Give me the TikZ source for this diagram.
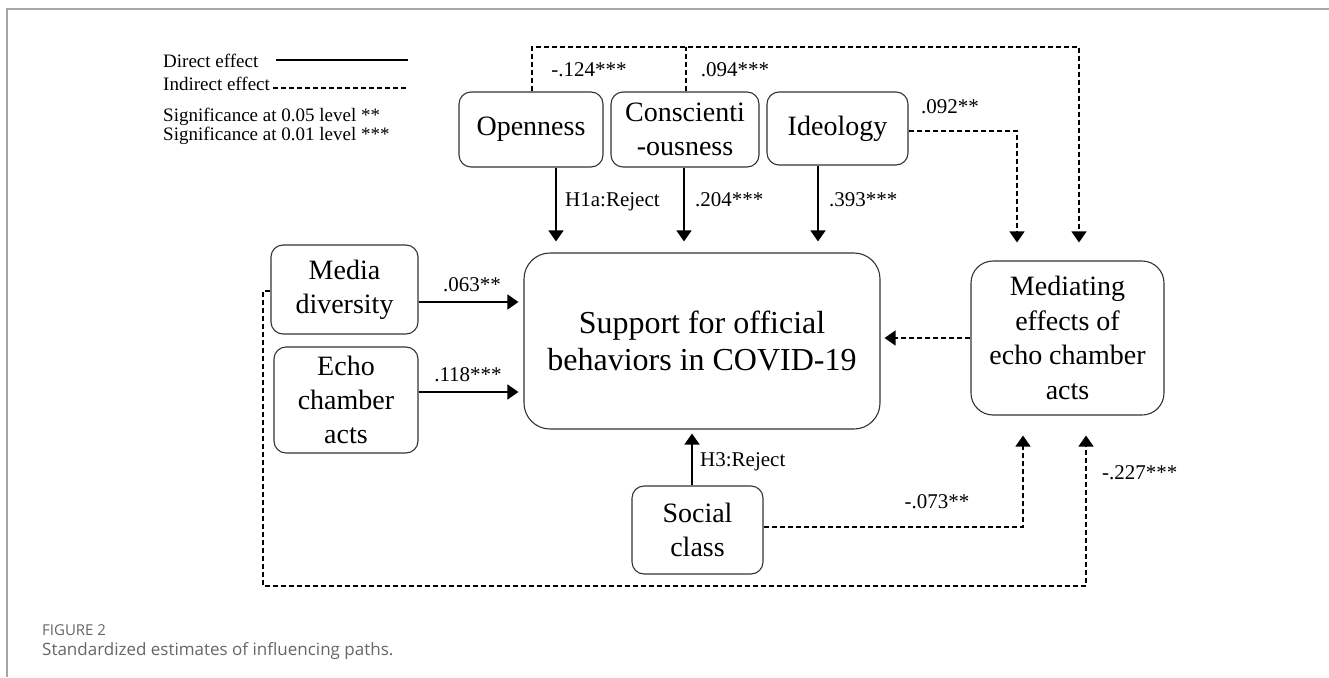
\documentclass[tikz,border=0pt]{standalone}
\usepackage{fontspec}
\setmainfont{Liberation Serif}
\newfontfamily\capfont{Open Sans}
\usetikzlibrary{arrows.meta}
\usetikzlibrary{positioning}
\usetikzlibrary{calc}

\begin{document}
\begin{tikzpicture}[x=1pt, y=-1pt,
    var/.style={draw=black!80, line width=1.1pt, rounded corners=12pt, align=center, inner sep=0pt, font=\fontsize{28}{34}\selectfont},
    direct/.style={line width=1.3pt, -{Triangle[width=15pt,length=11pt]}},
    indirect/.style={direct, dash pattern=on 5pt off 3pt},
    est/.style={font=\fontsize{21}{24}\selectfont, inner sep=0pt},
    legend/.style={font=\fontsize{19}{22}\selectfont, anchor=base west, inner sep=0pt}]
    \useasboundingbox (0,0) rectangle (1329,677);

    % Page frame
    \draw[black!35, line width=2pt] (7,677) -- (7,9) -- (1329,9);

    % Legend
    \node[legend] (ldirect) at (163,67) {Direct effect};
    \node[legend] (lindirect) at (163,90) {Indirect effect};
    \node[legend] (lsig05) at (163,121) {Significance at 0.05 level **};
    \node[legend] (lsig01) at (163,140) {Significance at 0.01 level ***};
    \draw[line width=1.3pt] (276,60) -- (408,60);
    \draw[line width=1.1pt, dash pattern=on 5pt off 3pt] (273,88) -- (408,88);

    % Variables
    \node[var, minimum width=144pt, minimum height=75pt] (open) at (531,129.5) {Openness};
    \node[var, minimum width=148pt, minimum height=75pt] (consc) at (685,129.5) {Conscienti\\-ousness};
    \node[var, minimum width=141pt, minimum height=73pt] (ideo) at (837.5,128.5) {Ideology};
    \node[var, minimum width=147pt, minimum height=89pt] (media) at (344.5,289.5) {Media\\diversity};
    \node[var, minimum width=144pt, minimum height=106pt] (echo) at (346,400) {Echo\\chamber\\acts};
    \node[var, minimum width=356pt, minimum height=176pt, rounded corners=26pt, font=\fontsize{32}{37}\selectfont] (support) at (702,341) {Support for official\\behaviors in COVID-19};
    \node[var, minimum width=131pt, minimum height=88pt] (social) at (697.5,530) {Social\\class};
    \node[var, minimum width=193pt, minimum height=154pt, rounded corners=22pt, font=\fontsize{28}{34.5}\selectfont] (medi) at (1067.5,338) {Mediating\\effects of\\echo chamber\\acts};

    % Direct effects
    \draw[direct, shorten >=11pt] ([xshift=25pt]open.south) -- ([xshift=25pt]open.south |- support.north);
    \draw[direct, shorten >=11pt] ([xshift=-1pt]consc.south) -- ([xshift=-1pt]consc.south |- support.north);
    \draw[direct, shorten >=11pt] ([xshift=-19.5pt]ideo.south) -- ([xshift=-19.5pt]ideo.south |- support.north);
    \draw[direct, shorten >=5pt] ([yshift=-12.5pt]media.east) -- ([yshift=-12.5pt]media.east -| support.west);
    \draw[direct, shorten >=5pt] ([yshift=8pt]echo.east) -- ([yshift=8pt]echo.east -| support.west);
    \draw[direct, shorten >=4pt] ([xshift=-5.5pt]social.north) -- ([xshift=-5.5pt]social.north |- support.south);

    % Indirect effects
    \coordinate (topline) at (0,47);
    \coordinate (botline) at (263,586);
    \coordinate (mtopA) at ([xshift=-50.5pt]medi.north);
    \coordinate (mtopB) at ([xshift=11.5pt]medi.north);
    \coordinate (mbotA) at ([xshift=-44.5pt]medi.south);
    \coordinate (mbotB) at ([xshift=18.5pt]medi.south);
    \draw[indirect, shorten >=4pt] (medi.west) -- (medi.west -| support.east);
    \draw[indirect, shorten >=18pt] ([xshift=1pt]open.north) |- (topline -| mtopB) -- (mtopB);
    \draw[indirect, -] ([xshift=1pt]consc.north) -- ([xshift=1pt]topline -| consc.north);
    \draw[indirect, shorten >=18pt] ([yshift=-2.5pt]ideo.east) -| (mtopA);
    \draw[indirect, shorten >=20pt] ([yshift=3pt]social.east) -| (mbotA);
    \draw[indirect, shorten >=20pt] ([yshift=-1.5pt]media.west) -| (botline) -| (mbotB);

    % Estimates
    \node[est] (eopen) at (589,70) {-.124***};
    \node[est] (econsc) at (735,70) {.094***};
    \node[est] (eideo) at (950,107) {.092**};
    \node[est, anchor=west] (h1a) at (565,202) {H1a:Reject};
    \node[est, anchor=west] (ecdir) at (695,200) {.204***};
    \node[est, anchor=west] (eidir) at (829,200) {.393***};
    \node[est] (emedia) at (472,285) {.063**};
    \node[est] (eecho) at (468,375) {.118***};
    \node[est, anchor=west] (h3) at (700,462) {H3:Reject};
    \node[est] (esocial) at (937,502) {-.073**};
    \node[est, anchor=west] (emmed) at (1102,473) {-.227***};

    % Caption
    \node[anchor=west, inner sep=0pt, text=black!60, font=\capfont\fontsize{15}{17}\selectfont] (fig) at (42,630) {FIGURE 2};
    \node[anchor=west, inner sep=0pt, text=black!60, font=\capfont\fontsize{17}{20}\selectfont] (caption) at (42,651) {Standardized estimates of influencing paths.};
\end{tikzpicture}
\end{document}
